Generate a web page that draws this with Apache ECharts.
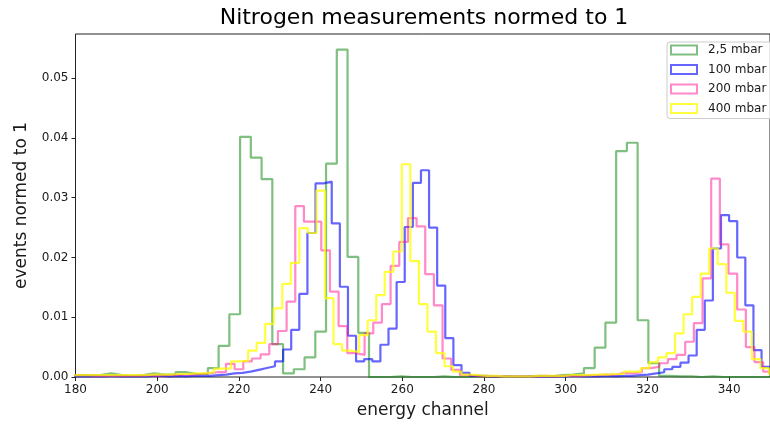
<!DOCTYPE html>
<html><head><meta charset="utf-8">
<script src="https://cdn.jsdelivr.net/npm/echarts@6/dist/echarts.min.js"></script>
<style>html,body{margin:0;padding:0;background:#fff}#c{width:770px;height:427px}</style>
</head><body><div id="c"></div>
<script>
const titleText = 'Nitrogen measurements normed to 1';
const xName = 'energy channel';
const yName = 'events normed to 1';
const seriesNames = ['2,5 mbar', '100 mbar', '200 mbar', '400 mbar'];
const xTicks = [180, 200, 220, 240, 260, 280, 300, 320, 340];
const yTicks = [0, 0.01, 0.02, 0.03, 0.04, 0.05];

// histogram bins: first edge and bin width per series, then bin heights
const greenStart = 178.21, greenWidth = 2.63;
const greenValues = [
  0.0003,0.0003,0.0003,0.0006,0.0003,0.0002,0.0003,0.0006,0.0004,0.0004,0.0008,0.0005,0.0005,
  0.0015,0.0052,0.0105,0.0402,0.0367,0.0331,0.0055,0.0006,0.0013,0.0033,0.0076,0.0357,0.0548,0.0201,0.0074,
  0,0,0.0001,0,0,0,0.0001,0,0,0.0001,0,0,0.0001,0,0.0001,0.0002,0.0001,0.0003,0.0004,0.0006,
  0.0015,0.0049,0.0091,0.0378,0.0392,0.0095,0.0023,0.0002,0.0001,0.0001,0,0.0001,0,0,0,0,0,0
];
const blueStart = 175.235, blueWidth = 1.985;
const blueValues = [
  0.0001,0.0001,0.0001,0.0001,0.0001,0.0001,0.0002,0.0001,0.0001,0.0001,0.0001,0.0002,0.0002,0.0001,0.0002,0.0001,0.0002,0.0002,0.0002,
  0.0003,0.0004,0.0006,0.0007,0.0009,0.0012,0.0015,0.0018,0.0026,0.0046,
  0.0079,0.0139,0.0241,0.0324,0.0327,0.0257,0.0151,0.0069,0.0026,0.0030,0.0026,
  0.0054,0.0081,0.0159,0.0251,0.0325,0.0346,0.0250,0.0153,0.0065,0.0020,0.0007,0.0002,
  0.0002,0.0001,0.0001,0.0001,0.0001,0.0001,0.0001,0.0001,0.0001,0.0001,0.0001,0.0002,0.0001,0.0001,0.0001,0.0002,0.0001,0.0002,0.0002,0.0003,0.0004,
  0.0006,0.0008,0.0013,0.0017,0.0024,0.0036,0.0079,0.0128,0.0215,0.0271,0.0261,0.0200,0.0120,0.0045,0.0017,0.0005
];
const pinkStart = 176.53, pinkWidth = 2.121;
const pinkValues = [
  0.0003,0.0003,0.0003,0.0002,0.0002,0.0002,0.0002,0.0002,0.0002,0.0003,0.0002,0.0003,0.0003,0.0004,0.0004,0.0005,0.0006,0.0008,0.0008,
  0.0022,0.0013,0.0026,0.0031,0.0038,0.0055,0.0077,0.0126,
  0.0286,0.0260,0.0260,0.0212,0.0143,0.0085,0.0040,0.0037,0.0073,0.0091,0.0122,0.0186,0.0226,0.0266,0.0252,0.0172,0.0120,0.0031,0.0012,0.0003,
  0.0002,0.0001,0.0001,0.0001,0.0001,0.0001,0.0001,0.0001,0.0002,0.0001,0.0002,0.0002,0.0002,0.0003,0.0003,0.0004,0.0004,0.0007,0.0006,0.0008,
  0.0015,0.0017,0.0023,0.0030,0.0037,0.0059,0.0090,0.0165,0.0332,0.0222,0.0173,0.0113,0.0050,0.0025,0.0009
];
const yellowStart = 176.28, yellowWidth = 2.09;
const yellowValues = [
  0.0002,0.0003,0.0003,0.0003,0.0003,0.0003,0.0003,0.0003,0.0003,0.0003,0.0004,0.0004,0.0004,0.0005,0.0005,0.0006,0.0006,0.0008,
  0.0014,0.0014,0.0026,0.0027,0.0044,0.0057,0.0089,0.0115,0.0156,0.0191,
  0.0249,0.0241,0.0312,0.0132,0.0055,0.0044,0.0042,0.0070,0.0095,0.0137,0.0176,0.0210,0.0356,0.0194,0.0122,0.0076,0.0040,0.0018,0.0009,0.0004,
  0.0003,0.0002,0.0002,0.0001,0.0001,0.0001,0.0001,0.0002,0.0002,0.0002,0.0002,0.0003,0.0003,0.0003,0.0004,0.0004,0.0005,0.0005,0.0009,0.0009,
  0.0015,0.0025,0.0033,0.0040,0.0073,0.0105,0.0134,0.0173,0.0215,0.0189,0.0141,0.0094,0.0076,0.0030,0.0015,0.0005
];

const colors = ['rgba(0,128,0,0.5)', 'rgba(0,0,255,0.6)', 'rgba(255,20,147,0.5)', 'rgba(255,255,0,0.75)'];

function stepPoints(start, width, vals) {
  const pts = [[start, 0]];
  vals.forEach((v, i) => pts.push([start + i * width, v]));
  pts.push([start + vals.length * width, 0]);
  return pts;
}
const allSeries = [
  stepPoints(greenStart, greenWidth, greenValues),
  stepPoints(blueStart, blueWidth, blueValues),
  stepPoints(pinkStart, pinkWidth, pinkValues),
  stepPoints(yellowStart, yellowWidth, yellowValues)
];

const txt = '#1a1a1a';
const font = 'DejaVu Sans';
const chart = echarts.init(document.getElementById('c'), null, {renderer: 'canvas'});
chart.setOption({
  animation: false,
  backgroundColor: '#fff',
  textStyle: {fontFamily: font},
  graphic: [{
    type: 'text', x: 424, y: 18,
    style: {text: titleText, font: '22px "DejaVu Sans"', fill: '#000', textAlign: 'center', textVerticalAlign: 'middle'}
  }],
  grid: {left: 75.5, top: 34, width: 697, height: 343, show: true, borderColor: '#222', borderWidth: 1, backgroundColor: 'transparent'},
  legend: {
    orient: 'vertical', left: 667, top: 42,
    itemWidth: 26, itemHeight: 9, itemGap: 7.5,
    padding: [2, 10, 4, 3],
    backgroundColor: 'rgba(255,255,255,0.8)', borderColor: '#ccc', borderWidth: 1, borderRadius: 3,
    textStyle: {fontFamily: font, fontSize: 12, color: txt, padding: [0, 0, 0, 6]},
    data: seriesNames.map((n, i) => ({name: n, icon: 'rect', itemStyle: {color: 'rgba(255,255,255,0)', borderColor: colors[i], borderWidth: 2}}))
  },
  xAxis: {
    type: 'value', min: 180, max: 350, interval: 20,
    name: xName, nameLocation: 'middle', nameGap: 25,
    nameTextStyle: {fontFamily: font, fontSize: 17, color: txt},
    axisLine: {show: false},
    axisTick: {show: true, length: 4, customValues: xTicks, lineStyle: {color: '#222'}},
    axisLabel: {customValues: xTicks, margin: 7, fontFamily: font, fontSize: 12, color: txt,
      formatter: v => xTicks.includes(v) ? String(v) : ''},
    splitLine: {show: false}
  },
  yAxis: {
    type: 'value', min: 0, max: 0.0574, interval: 0.01,
    name: yName, nameLocation: 'middle', nameGap: 45, nameRotate: 90,
    nameTextStyle: {fontFamily: font, fontSize: 17, color: txt},
    axisLine: {show: false},
    axisTick: {show: true, length: 4, customValues: yTicks, lineStyle: {color: '#222'}},
    axisLabel: {customValues: yTicks, margin: 7, fontFamily: font, fontSize: 12, color: txt,
      formatter: v => v.toFixed(2)},
    splitLine: {show: false}
  },
  series: allSeries.map((d, i) => ({
    name: seriesNames[i], type: 'line', step: 'end', data: d,
    symbol: 'none', clip: true,
    lineStyle: {color: colors[i], width: 2.2},
    itemStyle: {color: colors[i]},
    emphasis: {disabled: true}
  }))
});
</script></body></html>
